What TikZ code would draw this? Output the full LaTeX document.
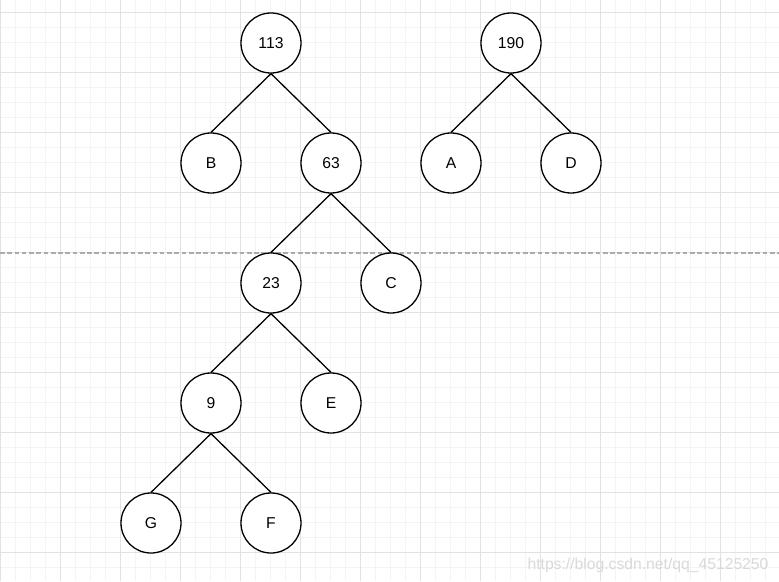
\documentclass[tikz,border=0pt]{standalone}
\usepackage{fontspec}
\setmainfont{Liberation Sans}
\usepackage{tikz}
\usetikzlibrary{arrows.meta,positioning}
\definecolor{GridMinor}{HTML}{F4F4F4}
\definecolor{GridMajor}{HTML}{E2E2E2}
\definecolor{Split}{HTML}{ABABAB}
\definecolor{Mark}{HTML}{D9D9D9}

\begin{document}
\begin{tikzpicture}[x=0.03cm,y=-0.03cm, font=\fontsize{13.4}{16}\selectfont]
  \tikzset{leaf/.style={draw=black,circle,line width=1.1pt,fill=white,minimum size=1.8cm,inner sep=0pt},
           minorline/.style={draw=GridMinor,line width=0.8pt},
           majorline/.style={draw=GridMajor,line width=0.8pt},
           edge/.style={draw=black,line width=1.1pt}}
  \useasboundingbox (0,0) rectangle (779,581);
  \fill[white] (0,0) rectangle (779,581);
  % background grid
  \foreach \x in {0,15,...,779}{\draw[minorline] (\x,0) -- (\x,581);}
  \foreach \y in {12,27,...,581}{\draw[minorline] (0,\y) -- (779,\y);}
  \foreach \x in {0,60,...,779}{\draw[majorline] (\x,0) -- (\x,581);}
  \foreach \y in {12,72,...,581}{\draw[majorline] (0,\y) -- (779,\y);}
  \coordinate (cutl) at (0,253);
  \coordinate (cutr) at (779,253);
  \draw[draw=Split,line width=0.9pt,dash pattern=on 4pt off 2.2pt] (cutl) -- (cutr);
  % nodes
  \node[leaf] (n113) at (271,43) {113};
  \node[leaf] (n190) at (511,43) {190};
  \node[leaf] (B) at (211,163) {B};
  \node[leaf] (n63) at (331,163) {63};
  \node[leaf] (A) at (451,163) {A};
  \node[leaf] (D) at (571,163) {D};
  \node[leaf] (n23) at (271,283) {23};
  \node[leaf] (C) at (391,283) {C};
  \node[leaf] (n9) at (211,403) {9};
  \node[leaf] (E) at (331,403) {E};
  \node[leaf] (G) at (151,523) {G};
  \node[leaf] (F) at (271,523) {F};
  \foreach \p/\c in {n113/B,n113/n63,n190/A,n190/D,n63/n23,n63/C,n23/n9,n23/E,n9/G,n9/F}{\draw[edge] (\p.south) -- (\c.north);}
  \node[text=Mark,inner sep=0pt] (mark) at (648,565) {https://blog.csdn.net/qq\_45125250};
\end{tikzpicture}
\end{document}
